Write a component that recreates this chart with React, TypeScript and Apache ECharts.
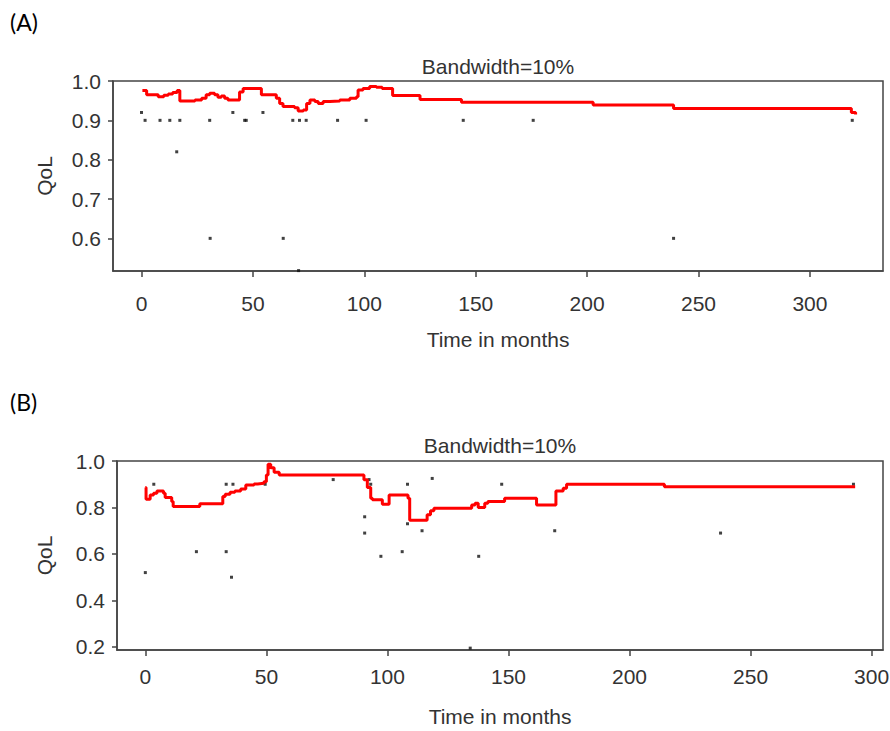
import React, { useEffect, useRef } from "react";
import * as echarts from "echarts";

// ---------- Panel A data ----------
const aLineT = [0.4, 2.3, 7.5, 10, 12, 14, 16, 17.2, 24, 27, 29, 30.6, 32.8, 34.3, 35.8, 37.3, 38.8, 44, 45.6, 53.8, 60.5, 62, 63.5, 68.7, 70.3, 72.6, 74.1, 75.6, 77.8, 79.3, 81.5, 84.5, 89, 93.5, 96.5, 97.2, 99.4, 102.4, 105.4, 108, 112.7, 125, 143.6, 202.7, 238.8, 318.6, 320.5];
const aLineV = [0.976, 0.965, 0.96, 0.964, 0.967, 0.971, 0.976, 0.949, 0.952, 0.956, 0.965, 0.969, 0.965, 0.959, 0.962, 0.956, 0.952, 0.972, 0.981, 0.965, 0.956, 0.943, 0.935, 0.932, 0.924, 0.926, 0.943, 0.952, 0.948, 0.943, 0.948, 0.949, 0.952, 0.956, 0.96, 0.977, 0.981, 0.986, 0.984, 0.981, 0.963, 0.953, 0.946, 0.939, 0.93, 0.92, 0.915];
const aDotT = [0, 1.6, 8.3, 12.7, 17.2, 15.8, 30.6, 30.8, 41, 46.3, 47, 54.5, 63.6, 67.9, 70.5, 70.9, 73.9, 88, 100.8, 144.4, 175.8, 238.8, 319];
const aDotV = [0.92, 0.9, 0.9, 0.9, 0.9, 0.82, 0.9, 0.6, 0.92, 0.9, 0.9, 0.92, 0.6, 0.9, 0.518, 0.9, 0.9, 0.9, 0.9, 0.9, 0.9, 0.6, 0.9];
const aXTicks = [0, 50, 100, 150, 200, 250, 300];
const aYTicks = [0.6, 0.7, 0.8, 0.9, 1.0];

// ---------- Panel B data ----------
const bLineT = [0, 0.3, 2, 3.4, 4.8, 7.5, 8.2, 10.9, 11.5, 22.5, 32, 33, 35, 37, 39.4, 41.5, 44.9, 46.4, 49, 50, 50.7, 51.8, 53.2, 55.3, 90.3, 91.7, 93.1, 93.8, 97.9, 100.7, 108.5, 109.2, 116.4, 117.8, 119.2, 134.8, 136.2, 137.5, 140.2, 141.5, 148.4, 161.6, 169.6, 172.6, 174, 214.4, 293.2];
const bLineV = [0.886, 0.836, 0.854, 0.861, 0.871, 0.861, 0.843, 0.826, 0.804, 0.816, 0.847, 0.857, 0.866, 0.871, 0.88, 0.897, 0.901, 0.904, 0.911, 0.94, 0.986, 0.971, 0.952, 0.94, 0.919, 0.886, 0.84, 0.833, 0.814, 0.854, 0.84, 0.745, 0.769, 0.786, 0.797, 0.811, 0.818, 0.8, 0.818, 0.826, 0.84, 0.811, 0.871, 0.883, 0.9, 0.889, 0.889];
const bDotT = [0, 3.5, 21.1, 33.4, 33.4, 35.6, 36.2, 49.5, 77.6, 90.6, 90.6, 92.4, 93.1, 97.3, 106.1, 108.3, 108.3, 114.3, 118.5, 134.2, 137.7, 147.2, 169.1, 237.6, 292.5];
const bDotV = [0.52, 0.9, 0.61, 0.9, 0.61, 0.5, 0.9, 0.9, 0.92, 0.76, 0.69, 0.92, 0.9, 0.59, 0.61, 0.9, 0.73, 0.7, 0.925, 0.195, 0.59, 0.9, 0.7, 0.69, 0.9];
const bXTicks = [0, 50, 100, 150, 200, 250, 300];
const bYTicks = [0.2, 0.4, 0.6, 0.8, 1.0];

const titleText = "Bandwidth=10%";
const xName = "Time in months";
const yName = "QoL";

const zip = (xs: number[], ys: number[]) => xs.map((x, i) => [x, ys[i]]);

const FONT = '"Liberation Sans", Arial, sans-serif';
const FS = 21;
const TXT = "#333";
const BOX = "#444";

function xAxisCfg(grid: number, min: number, max: number, ticks: number[], margin: number, gap: number) {
  return {
    type: "value",
    gridIndex: grid,
    min,
    max,
    name: xName,
    nameLocation: "middle",
    nameGap: gap,
    nameTextStyle: { fontFamily: FONT, fontSize: FS, color: TXT },
    axisLine: { show: true, onZero: false, lineStyle: { color: BOX, width: 1.5 } },
    axisTick: { show: true, length: 6, customValues: ticks, lineStyle: { color: BOX, width: 1.5 } },
    axisLabel: { customValues: ticks, margin, fontFamily: FONT, fontSize: FS, color: TXT, formatter: (v: number) => String(v) },
    splitLine: { show: false },
  };
}

function yAxisCfg(grid: number, min: number, max: number, ticks: number[], gap: number) {
  return {
    type: "value",
    gridIndex: grid,
    min,
    max,
    name: yName,
    nameLocation: "middle",
    nameGap: gap,
    nameRotate: 90,
    nameTextStyle: { fontFamily: FONT, fontSize: FS, color: TXT },
    axisLine: { show: true, onZero: false, lineStyle: { color: BOX, width: 1.5 } },
    axisTick: { show: true, length: 5, customValues: ticks, lineStyle: { color: BOX, width: 1.5 } },
    axisLabel: { customValues: ticks, margin: 12, fontFamily: FONT, fontSize: FS, color: TXT, formatter: (v: number) => v.toFixed(1) },
    splitLine: { show: false },
  };
}

export default function App() {
  const ref = useRef<HTMLDivElement>(null);
  useEffect(() => {
    if (!ref.current) return;
    const chart = echarts.init(ref.current, null, { renderer: "svg" });
    const option: any = {
      animation: false,
      backgroundColor: "#ffffff",
      grid: [
        { left: 113, top: 81, width: 770, height: 190, show: true, borderColor: BOX, borderWidth: 1.5, backgroundColor: "transparent", outerBoundsMode: "none" },
        { left: 117, top: 461, width: 766, height: 189, show: true, borderColor: BOX, borderWidth: 1.5, backgroundColor: "transparent", outerBoundsMode: "none" },
      ],
      xAxis: [
        xAxisCfg(0, -12.8, 332.8, aXTicks, 22, 58),
        xAxisCfg(1, -11.7, 304.7, bXTicks, 16, 56),
      ],
      yAxis: [
        yAxisCfg(0, 0.517, 1.0, aYTicks, 58),
        yAxisCfg(1, 0.187, 1.0, bYTicks, 62),
      ],
      series: [
        {
          type: "line", xAxisIndex: 0, yAxisIndex: 0, step: "end", showSymbol: false,
          lineStyle: { color: "#ff0000", width: 3 }, data: zip(aLineT, aLineV), z: 3,
        },
        {
          type: "scatter", xAxisIndex: 0, yAxisIndex: 0, symbol: "rect", symbolSize: [3, 3],
          itemStyle: { color: "#111" }, data: zip(aDotT, aDotV), z: 2,
        },
        {
          type: "line", xAxisIndex: 1, yAxisIndex: 1, step: "end", showSymbol: false,
          lineStyle: { color: "#ff0000", width: 3 }, data: zip(bLineT, bLineV), z: 3,
        },
        {
          type: "scatter", xAxisIndex: 1, yAxisIndex: 1, symbol: "rect", symbolSize: [3, 3],
          itemStyle: { color: "#111" }, data: zip(bDotT, bDotV), z: 2,
        },
      ],
      graphic: [
        { type: "text", x: 10, y: 22, style: { text: "(A)", fontFamily: "Lato, sans-serif", fontSize: 23, fill: "#000", align: "left", verticalAlign: "middle" } },
        { type: "text", x: 10, y: 402, style: { text: "(B)", fontFamily: "Lato, sans-serif", fontSize: 23, fill: "#000", align: "left", verticalAlign: "middle" } },
        { type: "text", x: 498, y: 66, style: { text: titleText, fontFamily: FONT, fontSize: FS, fill: TXT, align: "center", verticalAlign: "middle" } },
        { type: "text", x: 500, y: 445, style: { text: titleText, fontFamily: FONT, fontSize: FS, fill: TXT, align: "center", verticalAlign: "middle" } },
      ],
    };
    chart.setOption(option);
    return () => chart.dispose();
  }, []);
  return <div ref={ref} style={{ position: "fixed", left: 0, top: 0, width: 890, height: 731, background: "#fff" }} />;
}
